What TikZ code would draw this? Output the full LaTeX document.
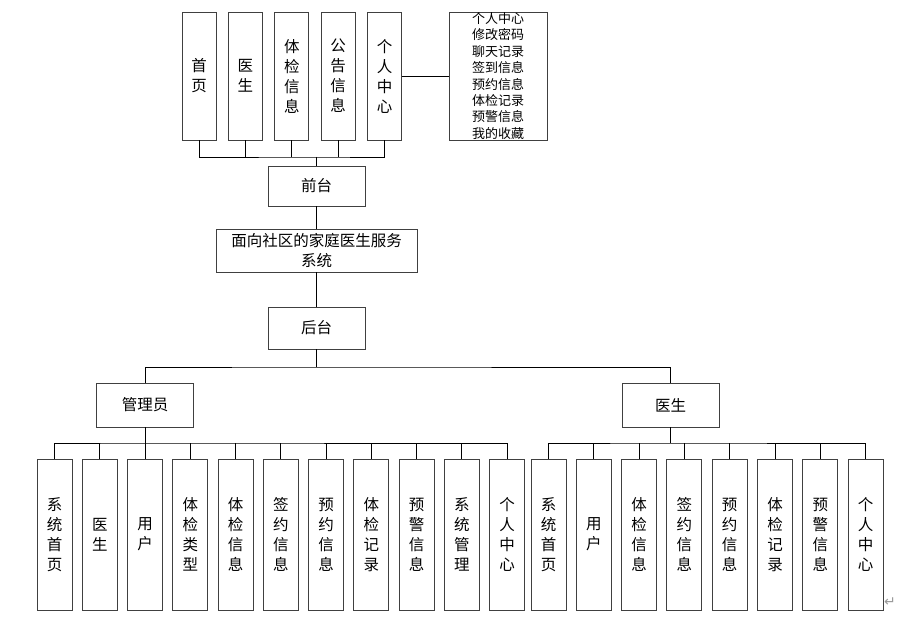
\documentclass[tikz,border=0pt]{standalone}
\usepackage{fontspec}
\setmainfont{Noto Sans CJK SC}
\newfontfamily\symfont{DejaVu Sans}
\usetikzlibrary{positioning}

\begin{document}
\begin{tikzpicture}[x=1pt, y=-1pt,
        every node/.style={font=\fontsize{15.5}{20}\selectfont},
        box/.style={draw=black!75, line width=0.9pt, inner sep=0pt, align=center},
        vbox/.style={box, minimum width=34pt, minimum height=128pt},
        hbox/.style={box, minimum width=97pt, minimum height=42pt},
        lowbox/.style={box, minimum width=35pt, minimum height=151pt},
        link/.style={line width=0.9pt}]

    \useasboundingbox (0,0) rectangle (913,617);

    % front end
    \foreach \nm/\txt [count=\i from 0] in {fhome/{首\\页}, fdoc/{医\\生}, finfo/{体\\检\\信\\息},
            fnote/{公\\告\\信\\息}, fuser/{个\\人\\中\\心}}
        \node[vbox] (\nm) at (199+46.4*\i,76) {\txt};
    \node[box, minimum width=98pt, minimum height=128pt, font=\fontsize{13}{16.4}\selectfont] (plist) at (498,76)
        {个人中心\\修改密码\\聊天记录\\签到信息\\预约信息\\体检记录\\预警信息\\我的收藏};
    \draw[link] (fuser.east) -- (plist.west);

    \node[hbox, minimum height=40pt] (front) at (316.5,186) {前台};
    \coordinate (fbus) at (316.5,157);
    \draw[link] (fhome.south) |- (fbus) -| (fuser.south);
    \foreach \nm in {fdoc,finfo,fnote}
        \draw[link] (\nm.south) -- (\nm.south |- fbus);
    \draw[link] (fbus) -- (front.north);

    % system
    \node[box, minimum width=201pt, minimum height=43pt] (sys) at (316.5,250.5) {面向社区的家庭医生服务\\系统};
    \node[hbox] (back) at (316.5,328) {后台};
    \draw[link] (front.south) -- (sys.north);
    \draw[link] (sys.south) -- (back.north);

    % back end
    \node[hbox, minimum height=44pt] (admin) at (145,405) {管理员};
    \node[hbox, minimum height=44pt] (doctor) at (670.5,405) {医生};
    \coordinate (bbus) at (316.5,367);
    \draw[link] (back.south) -- (bbus);
    \draw[link] (admin.north) |- (bbus) -| (doctor.north);

    % admin modules
    \foreach \txt [count=\i from 0] in {{系\\统\\首\\页}, {医\\生}, {用\\户}, {体\\检\\类\\型}, {体\\检\\信\\息},
            {签\\约\\信\\息}, {预\\约\\信\\息}, {体\\检\\记\\录}, {预\\警\\信\\息}, {系\\统\\管\\理}, {个\\人\\中\\心}}
        \node[lowbox] (a\i) at (54.5+45.25*\i,534.5) {\txt};
    \coordinate (abus) at (145,443);
    \draw[link] (admin.south) -- (abus);
    \draw[link] (a0.north) |- (abus) -| (a10.north);
    \foreach \i in {1,...,9}
        \draw[link] (a\i.north) -- (a\i.north |- abus);

    % doctor modules
    \foreach \txt [count=\i from 0] in {{系\\统\\首\\页}, {用\\户}, {体\\检\\信\\息}, {签\\约\\信\\息},
            {预\\约\\信\\息}, {体\\检\\记\\录}, {预\\警\\信\\息}, {个\\人\\中\\心}}
        \node[lowbox] (d\i) at (548.5+45.3*\i,534.5) {\txt};
    \coordinate (dbus) at (670.5,443);
    \draw[link] (doctor.south) -- (dbus);
    \draw[link] (d0.north) |- (dbus) -| (d7.north);
    \foreach \i in {1,...,6}
        \draw[link] (d\i.north) -- (d\i.north |- dbus);

    \node[text=black!40, font=\symfont\fontsize{14}{14}\selectfont] (ret) at (890,602) {↵};
\end{tikzpicture}
\end{document}
